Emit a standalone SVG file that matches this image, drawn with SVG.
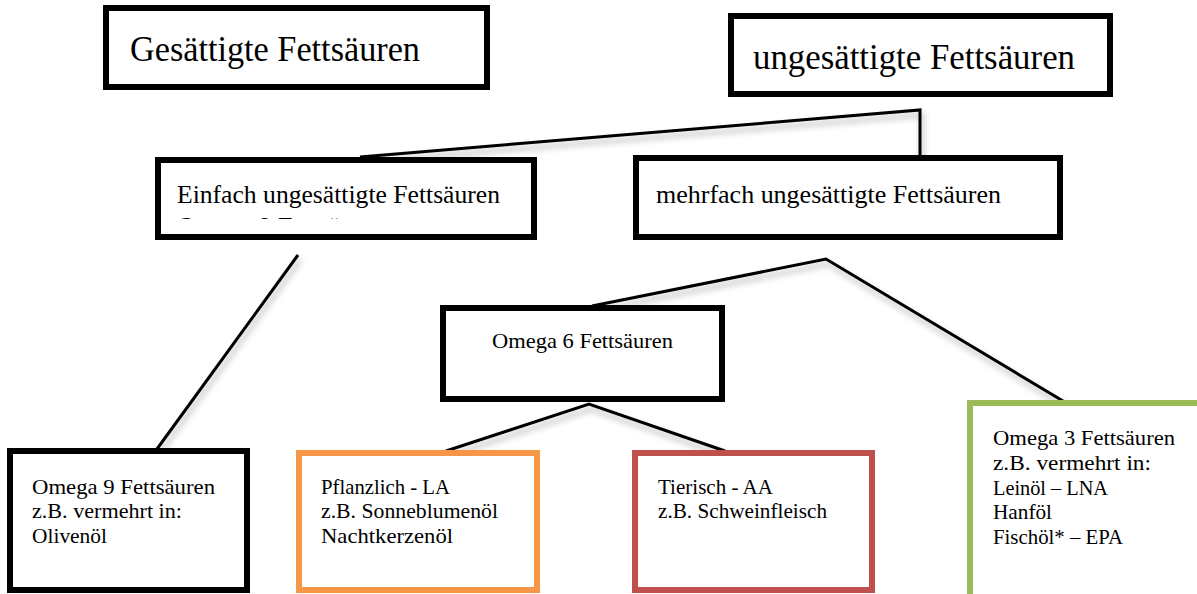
<svg xmlns="http://www.w3.org/2000/svg" width="1197" height="594" viewBox="0 0 1197 594">
<style>
.box{fill:#ffffff;stroke:#000000;stroke-width:6}
.t{font-family:"Liberation Serif","Times New Roman",serif;fill:#000000}
.big{font-size:35px}
.mid{font-size:26px}
.sm{font-size:22px}
.conn{fill:none;stroke:#000000;stroke-width:3;stroke-linejoin:miter}
</style>
<defs>
<filter id="sh" x="-10%" y="-20%" width="130%" height="160%">
<feDropShadow dx="2" dy="5" stdDeviation="3" flood-color="#000000" flood-opacity="0.3"/>
</filter>
<clipPath id="clipE"><rect x="161" y="163" width="370" height="56"/></clipPath>
</defs>
<rect width="1197" height="594" fill="#ffffff"/>

<g id="connectors" filter="url(#sh)">
<polyline class="conn" points="360,157 920,110 920,156"/>
<line class="conn" x1="298" y1="255" x2="157" y2="449"/>
<polyline class="conn" points="592,306 826,259 1063,401"/>
<polyline class="conn" points="446,451 589,404 725,451"/>
</g>

<g id="gesaettigte">
<rect class="box" x="106" y="8" width="381" height="79"/>
<text class="t big" x="130" y="61" textLength="290" lengthAdjust="spacingAndGlyphs">Gesättigte Fettsäuren</text>
</g>

<g id="ungesaettigte">
<rect class="box" x="731" y="16" width="379" height="78"/>
<text class="t big" x="753" y="69" textLength="322" lengthAdjust="spacingAndGlyphs">ungesättigte Fettsäuren</text>
</g>

<g id="einfach">
<rect class="box" x="158" y="160" width="376" height="77"/>
<text class="t mid" x="177" y="203" textLength="323" lengthAdjust="spacingAndGlyphs">Einfach ungesättigte Fettsäuren</text>
<text class="t mid" x="177" y="235" clip-path="url(#clipE)">Omega 9 Fettsäuren</text>
</g>

<g id="mehrfach">
<rect class="box" x="636" y="158" width="424" height="79"/>
<text class="t mid" x="656" y="203" textLength="345" lengthAdjust="spacingAndGlyphs">mehrfach ungesättigte Fettsäuren</text>
</g>

<g id="omega6">
<rect class="box" x="443" y="308" width="279" height="91"/>
<text class="t sm" x="492" y="348" textLength="181" lengthAdjust="spacingAndGlyphs">Omega 6 Fettsäuren</text>
</g>

<g id="omega9">
<rect class="box" x="10" y="451" width="237" height="139"/>
<text class="t sm" x="32" y="494" textLength="183" lengthAdjust="spacingAndGlyphs">Omega 9 Fettsäuren</text>
<text class="t sm" x="32" y="518" textLength="150" lengthAdjust="spacingAndGlyphs">z.B. vermehrt in:</text>
<text class="t sm" x="32" y="543" textLength="75" lengthAdjust="spacingAndGlyphs">Olivenöl</text>
</g>

<g id="pflanzlich">
<rect class="box" style="stroke:#F79646" x="299" y="453" width="238" height="137"/>
<text class="t sm" x="321" y="494" textLength="129" lengthAdjust="spacingAndGlyphs">Pflanzlich - LA</text>
<text class="t sm" x="321" y="518" textLength="177" lengthAdjust="spacingAndGlyphs">z.B. Sonneblumenöl</text>
<text class="t sm" x="321" y="543" textLength="132" lengthAdjust="spacingAndGlyphs">Nachtkerzenöl</text>
</g>

<g id="tierisch">
<rect class="box" style="stroke:#C0504D" x="635" y="453" width="237" height="137"/>
<text class="t sm" x="658" y="494" textLength="115" lengthAdjust="spacingAndGlyphs">Tierisch - AA</text>
<text class="t sm" x="658" y="518" textLength="169" lengthAdjust="spacingAndGlyphs">z.B. Schweinfleisch</text>
</g>

<g id="omega3">
<rect class="box" style="stroke:#9BBB59" x="970" y="403" width="260" height="220"/>
<text class="t sm" x="993" y="445" textLength="182" lengthAdjust="spacingAndGlyphs">Omega 3 Fettsäuren</text>
<text class="t sm" x="993" y="470" textLength="158" lengthAdjust="spacingAndGlyphs">z.B. vermehrt in:</text>
<text class="t sm" x="993" y="495" textLength="115" lengthAdjust="spacingAndGlyphs">Leinöl – LNA</text>
<text class="t sm" x="993" y="519" textLength="59" lengthAdjust="spacingAndGlyphs">Hanföl</text>
<text class="t sm" x="993" y="544" textLength="130" lengthAdjust="spacingAndGlyphs">Fischöl* – EPA</text>
</g>
</svg>
